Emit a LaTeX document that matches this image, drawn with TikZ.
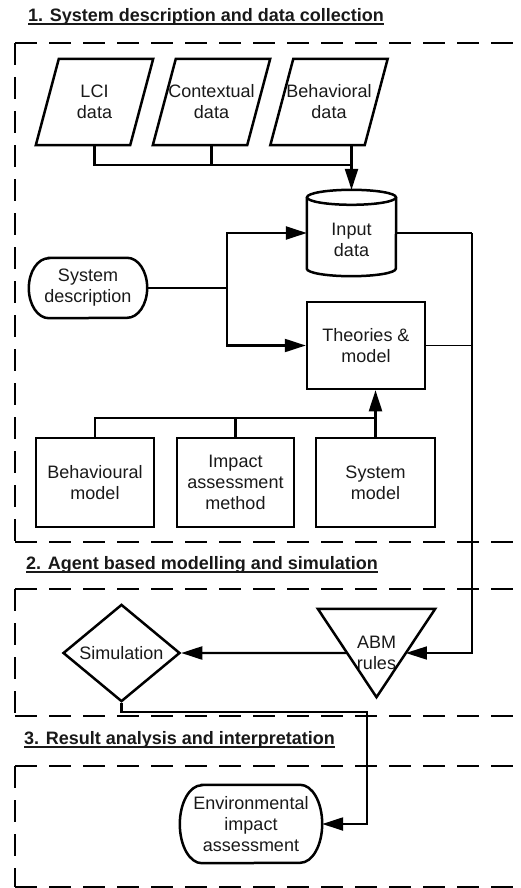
\documentclass[tikz,border=0pt]{standalone}
\usepackage{fontspec}
\setmainfont{Liberation Sans}
\usetikzlibrary{arrows.meta,shapes.geometric,calc}
\begin{document}
\begin{tikzpicture}[x=1pt,y=-1pt,
  txt/.style={font=\fontsize{18pt}{21pt}\selectfont, align=center, text=black!90, inner sep=0pt},
  box/.style={txt, draw, line width=2.5pt, rectangle},
  outline/.style={line width=2.5pt, line join=miter},
  conn/.style={line width=2.2pt},
  thin/.style={line width=1.6pt},
  arr/.style={conn, -{Triangle[length=21pt,width=13pt]}},
  frame/.style={line width=2.2pt, dash pattern=on 22pt off 12pt},
  title/.style={font=\fontsize{18pt}{21pt}\selectfont\bfseries, anchor=base west, inner sep=0pt, text=black!90},
  uline/.style={line width=1.5pt, black!90}
]
\useasboundingbox (0,0) rectangle (521,888);
\clip (0,0) rectangle (521,888);

% ---------- frames ----------
\draw[frame] (15,43) -- (530,43);
\draw[frame] (15,43) -- (15,542);
\draw[frame] (15,542) -- (530,542);
\draw[frame] (15,589) -- (530,589);
\draw[frame] (15,589) -- (15,716);
\draw[frame] (15,716) -- (530,716);
\draw[frame] (15,766) -- (530,766);
\draw[frame] (15,766) -- (15,887);
\draw[frame] (15,887) -- (530,887);

% ---------- titles ----------
\node[title] (T1) at (28,21.5) {1. System description and data collection};
\draw[uline] ([yshift=-2.5pt]T1.base west) -- ([yshift=-2.5pt]T1.base east);
\node[title] (T2) at (26,569.5) {2. Agent based modelling and simulation};
\draw[uline] ([yshift=-2.5pt]T2.base west) -- ([yshift=-2.5pt]T2.base east);
\node[title] (T3) at (24,744.5) {3. Result analysis and interpretation};
\draw[uline] ([yshift=-2.5pt]T3.base west) -- ([yshift=-2.5pt]T3.base east);

% ---------- data parallelograms ----------
\node[txt, minimum width=117pt, minimum height=86pt] (LCI) at (94.5,102) {LCI\\data};
\node[txt, minimum width=117pt, minimum height=86pt] (CTX) at (211.5,102) {Contextual\\data};
\node[txt, minimum width=117pt, minimum height=86pt] (BEH) at (329,102) {Behavioral\\data};
\foreach \n in {LCI,CTX,BEH}{
  \draw[outline] (\n.south west) -- ([xshift=-23pt]\n.south east) -- (\n.north east)
    -- ([xshift=23pt]\n.north west) -- cycle;
}

% ---------- input data cylinder ----------
\node[minimum width=89pt, minimum height=86pt, inner sep=0pt] (IN) at (351.5,233) {};
\draw[outline] ([yshift=-7.5pt]IN.north) ellipse[x radius=44.5pt, y radius=7.5pt];
\draw[outline] ([yshift=-7.5pt]IN.north west) -- ([yshift=7.5pt]IN.south west)
  arc[start angle=180, end angle=360, x radius=44.5pt, y radius=7.5pt]
  -- ([yshift=-7.5pt]IN.north east);
\node[txt] (INlbl) at (351.5,239.5) {Input\\data};

% ---------- system description ----------
\node[txt, minimum width=118pt, minimum height=60pt] (SD) at (88,288) {System\\description};
\draw[outline] ([xshift=20pt]SD.north west) -- ([xshift=-20pt]SD.north east)
  arc[start angle=90, end angle=-90, x radius=20pt, y radius=30pt]
  -- ([xshift=20pt]SD.south west)
  arc[start angle=270, end angle=90, x radius=20pt, y radius=30pt] -- cycle;

% ---------- theories ----------
\node[box, minimum width=118pt, minimum height=87pt] (TH) at (366,345.5) {Theories \&\\model};

% ---------- bottom boxes ----------
\node[box, minimum width=118pt, minimum height=89pt] (BM) at (95,482.5) {Behavioural\\model};
\node[box, minimum width=117pt, minimum height=89pt] (IM) at (235.5,482.5) {Impact\\assessment\\method};
\node[box, minimum width=119pt, minimum height=89pt] (SM) at (375.5,482.5) {System\\model};

% ---------- section 2 ----------
\node[txt, draw, diamond, line width=2.5pt, minimum width=117pt, minimum height=88pt] (SIM) at (121.5,653) {Simulation};
\node[txt, minimum width=117pt, minimum height=88pt] (ABM) at (376.5,653) {ABM\\rules};
\draw[outline] (ABM.north west) -- (ABM.north east) -- (ABM.south) -- cycle;
\coordinate (abmR) at ($(ABM.north east)!0.5!(ABM.south)$);
\coordinate (abmL) at ($(ABM.north west)!0.5!(ABM.south)$);

% ---------- section 3 ----------
\node[txt, minimum width=142pt, minimum height=78pt] (ENV) at (251,824) {Environmental\\impact\\assessment};
\draw[outline] ([xshift=22pt]ENV.north west) -- ([xshift=-22pt]ENV.north east)
  arc[start angle=90, end angle=-90, x radius=22pt, y radius=39pt]
  -- ([xshift=22pt]ENV.south west)
  arc[start angle=270, end angle=90, x radius=22pt, y radius=39pt] -- cycle;

% ---------- connectors ----------
\coordinate (topbus) at (0,165);
\draw[conn] (LCI.south) -- (LCI.south |- topbus) -- (topbus -| IN.north);
\draw[conn] (CTX.south) -- (CTX.south |- topbus);
\draw[arr] (IN.north |- BEH.south) -- (IN.north);

\coordinate (sdj) at (227,288);
\draw[arr] (SD.east) -- (sdj) |- (IN.west);
\draw[arr] (sdj) |- (TH.west);

\coordinate (botbus) at (0,418);
\draw[conn] (BM.north) -- (BM.north |- botbus) -- (botbus -| SM.north);
\draw[conn] (IM.north) -- (IM.north |- botbus);
\draw[arr] (SM.north) -- (SM.north |- TH.south);

\coordinate (rail) at (472,0);
\draw[conn] (IN.east) -- (IN.east -| rail);
\draw[thin, -{Triangle[length=21pt,width=13pt]}] (IN.east -| rail) |- (abmR);
\draw[thin] (TH.east) -- (TH.east -| rail);

\draw[arr] (abmL) -- (SIM.east);

\coordinate (simrail) at (367,0);
\draw[arr] (SIM.south) -- ++(0,9) -| (simrail |- ENV.east) -- (ENV.east);
\end{tikzpicture}
\end{document}
